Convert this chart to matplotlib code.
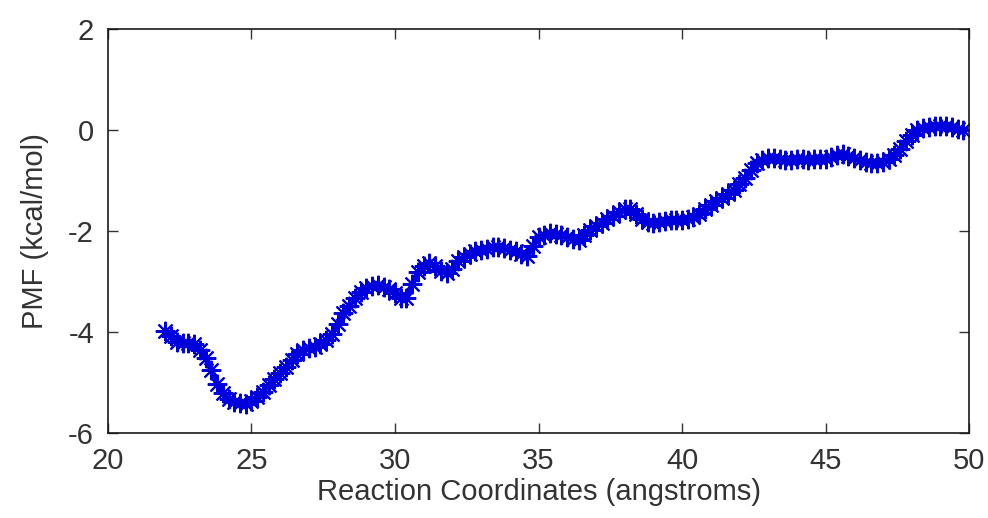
import numpy as np
import matplotlib
matplotlib.use("Agg")
import matplotlib.pyplot as plt

# reaction coordinate (angstroms), sampled every 0.2
rc = np.round(np.arange(22.0, 49.81, 0.2), 1)
pmf = [
    -3.98, -4.08, -4.19, -4.22, -4.22, -4.23, -4.35, -4.52, -4.75, -5.03,
    -5.20, -5.32, -5.38, -5.41, -5.42, -5.36, -5.28, -5.18, -5.05, -4.93,
    -4.82, -4.69, -4.55, -4.43, -4.36, -4.32, -4.29, -4.24, -4.15, -4.03,
    -3.85, -3.63, -3.48, -3.33, -3.20, -3.12, -3.08, -3.07, -3.10, -3.15,
    -3.22, -3.32, -3.33, -3.05, -2.82, -2.70, -2.64, -2.70, -2.80, -2.83,
    -2.75, -2.60, -2.51, -2.45, -2.40, -2.37, -2.35, -2.32, -2.31, -2.34,
    -2.37, -2.40, -2.46, -2.50, -2.30, -2.12, -2.07, -2.04, -2.05, -2.08,
    -2.11, -2.15, -2.17, -2.08, -1.97, -1.90, -1.84, -1.76, -1.70, -1.63,
    -1.57, -1.57, -1.66, -1.76, -1.83, -1.85, -1.82, -1.80, -1.79, -1.78,
    -1.78, -1.76, -1.73, -1.66, -1.57, -1.48, -1.41, -1.34, -1.27, -1.18,
    -1.06, -0.95, -0.80, -0.66, -0.59, -0.56, -0.56, -0.58, -0.59, -0.59,
    -0.58, -0.58, -0.59, -0.58, -0.57, -0.57, -0.54, -0.49, -0.47, -0.51,
    -0.56, -0.60, -0.63, -0.66, -0.66, -0.63, -0.57, -0.50, -0.38, -0.22,
    -0.10, 0.00, 0.04, 0.06, 0.07, 0.07, 0.07, 0.06, 0.03, 0.00,
]

xticks = [20, 25, 30, 35, 40, 45, 50]
yticks = [-6, -4, -2, 0, 2]

plt.rcParams['font.family'] = ['Liberation Sans', 'DejaVu Sans']
plt.rcParams['axes.unicode_minus'] = False

fig = plt.figure(figsize=(9.88, 5.18), dpi=100)
ax = fig.add_axes([0.1093, 0.164, 0.8715, 0.780])

# MATLAB-style '*' markers, heavily overlapping
ax.plot(rc, pmf, color="#0000ff", linewidth=4, marker=(8, 2, 0),
        markersize=14, markeredgewidth=1.5, markeredgecolor="#0000dd")

ax.set_xlim(20, 50)
ax.set_ylim(-6, 2)
ax.set_xticks(xticks)
ax.set_yticks(yticks)
ax.tick_params(direction="in", length=7, width=1, top=True, right=True,
               labelsize=21, colors="#333333", pad=10)
for s in ax.spines.values():
    s.set_linewidth(1.2)
    s.set_color("#1a1a1a")

ax.set_xlabel("Reaction Coordinates (angstroms)", fontsize=21, color="#333333", labelpad=2)
ax.set_ylabel("PMF (kcal/mol)", fontsize=21, color="#333333", labelpad=14)

fig.savefig("out.png", dpi=100)
